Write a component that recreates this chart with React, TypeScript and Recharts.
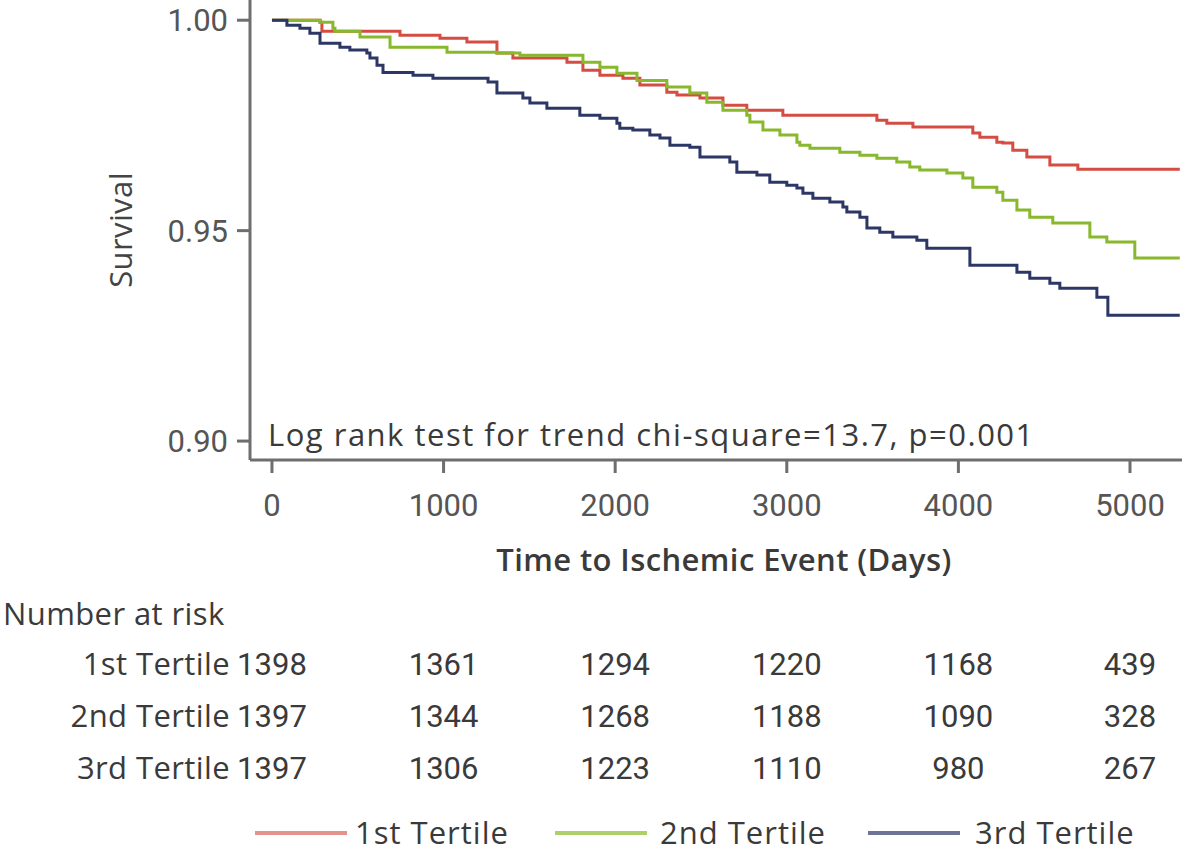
import { Line, LineChart, XAxis, YAxis } from "recharts";

const FONT = "'Open Sans', 'Noto Sans', sans-serif";
const NUM_FONT = "Roboto, 'Noto Sans', sans-serif";

const dayTicks = [0, 1000, 2000, 3000, 4000, 5000];
const survTicks = [0.9, 0.95, 1.0];

// Kaplan-Meier steps: day where the curve drops, and the survival from that day on
const t1Days = [0, 280, 291, 746, 979, 1136, 1311, 1404, 1719, 1812, 1911, 2045, 2144, 2301, 2360, 2494, 2628, 2767, 2977, 3525, 3583, 3735, 4084, 4125, 4224, 4259, 4317, 4399, 4533, 4696, 5290];
const t1Surv = [1.0, 0.9995, 0.9974, 0.9964, 0.9957, 0.9948, 0.9922, 0.991, 0.99, 0.9881, 0.9869, 0.9862, 0.9846, 0.9829, 0.9822, 0.9815, 0.9798, 0.9786, 0.9774, 0.9762, 0.9755, 0.9746, 0.9732, 0.9722, 0.971, 0.9708, 0.9691, 0.9675, 0.9656, 0.9646, 0.9646];

const t2Days = [0, 280, 355, 367, 513, 688, 1020, 1311, 1445, 1812, 1911, 2010, 2127, 2301, 2435, 2534, 2628, 2767, 2785, 2861, 2960, 3059, 3076, 3135, 3309, 3426, 3525, 3641, 3717, 3775, 3933, 4026, 4084, 4224, 4259, 4341, 4416, 4550, 4766, 4865, 5028, 5290];
const t2Surv = [1.0, 0.9995, 0.9981, 0.9974, 0.996, 0.9936, 0.9924, 0.9922, 0.9917, 0.99, 0.9888, 0.9874, 0.9857, 0.9841, 0.9827, 0.9805, 0.9786, 0.9774, 0.9758, 0.9739, 0.9727, 0.971, 0.9703, 0.9696, 0.9686, 0.9679, 0.9672, 0.9663, 0.9651, 0.9644, 0.9637, 0.9625, 0.9603, 0.9591, 0.9572, 0.9549, 0.9532, 0.9518, 0.9485, 0.9473, 0.9435, 0.9435];

const t3Days = [0, 87, 163, 221, 280, 396, 454, 553, 571, 612, 647, 822, 938, 1259, 1311, 1462, 1503, 1602, 1794, 1911, 2010, 2027, 2103, 2202, 2261, 2319, 2435, 2494, 2668, 2709, 2826, 2901, 3000, 3059, 3094, 3152, 3251, 3327, 3350, 3426, 3467, 3542, 3618, 3758, 3816, 4067, 4341, 4416, 4533, 4591, 4807, 4871, 5290];
const t3Surv = [1.0, 0.9988, 0.9981, 0.9969, 0.9945, 0.9936, 0.9929, 0.9922, 0.991, 0.9893, 0.9876, 0.9869, 0.9862, 0.9853, 0.9827, 0.9815, 0.9803, 0.9791, 0.9774, 0.9767, 0.9755, 0.9743, 0.9739, 0.9727, 0.972, 0.9703, 0.9698, 0.9675, 0.9663, 0.9639, 0.9632, 0.9615, 0.9608, 0.9601, 0.9589, 0.9577, 0.9568, 0.9556, 0.9544, 0.9532, 0.9506, 0.9496, 0.9485, 0.9477, 0.9458, 0.9418, 0.9401, 0.9387, 0.9375, 0.9363, 0.9342, 0.9299, 0.9299];

const risk1 = [1398, 1361, 1294, 1220, 1168, 439];
const risk2 = [1397, 1344, 1268, 1188, 1090, 328];
const risk3 = [1397, 1306, 1223, 1110, 980, 267];

const groups = ["1st Tertile", "2nd Tertile", "3rd Tertile"];
const colors = ["#d44c42", "#88b82c", "#2c3766"];
const legendColors = ["#e3938b", "#aed06a", "#6d7596"];
const legendLineX = [255, 555, 868];
const legendTextX = [355, 660, 975];

const toPts = (days: number[], surv: number[]) => days.map((d, i) => ({ d, s: surv[i] }));
const series = [toPts(t1Days, t1Surv), toPts(t2Days, t2Surv), toPts(t3Days, t3Surv)];
const risks = [risk1, risk2, risk3];
// invisible carriers so the at-risk axes get a domain and draw their ticks
const riskPts = risks.map((r) => dayTicks.map((d, j) => ({ d, s: 0.95, n: r[j] })));

const axisGrey = "#6e6e6e";
const txt = { fontFamily: FONT, fontSize: 31, letterSpacing: 0.4 };
const num = { fontFamily: NUM_FONT, fontSize: 31 };

export default function App() {
  return (
    <div style={{ position: "absolute", left: 0, top: 0, width: 1200, height: 861, background: "#fff", fontFamily: FONT }}>
      <LineChart width={1200} height={861} margin={{ top: 0, right: 18, left: 180, bottom: 65 }}>
        <XAxis
          xAxisId="main" type="number" dataKey="d" domain={[-128, 5303]} ticks={dayTicks}
          allowDataOverflow height={180} stroke={axisGrey} strokeWidth={3}
          tickSize={13} tickMargin={21} tick={{ ...num, fill: "#555" }}
        />
        {risks.map((r, i) => (
          <XAxis
            key={i} xAxisId={`r${i}`} type="number" dataKey="d" domain={[-128, 5303]} ticks={dayTicks}
            allowDataOverflow height={52} axisLine={false} tickLine={false}
            tickSize={0} tickMargin={13} tick={{ ...num, fill: "#3a3a3a" }}
            tickFormatter={(v: number) => String(r[dayTicks.indexOf(v)] ?? "")}
          />
        ))}
        <YAxis
          type="number" domain={[0.8955, 1.0048]} ticks={survTicks} allowDataOverflow
          width={70} stroke={axisGrey} strokeWidth={3} tickSize={13} tickMargin={9}
          tick={{ ...num, fill: "#555" }} tickFormatter={(v: number) => v.toFixed(2)}
        />
        {series.map((pts, i) => (
          <Line
            key={i} xAxisId="main" data={pts} dataKey="s" type="stepAfter"
            stroke={colors[i]} strokeWidth={3} dot={false} isAnimationActive={false}
          />
        ))}
        {riskPts.map((pts, i) => (
          <Line
            key={`r${i}`} xAxisId={`r${i}`} data={pts} dataKey="s" stroke="none"
            dot={false} activeDot={false} isAnimationActive={false} legendType="none"
          />
        ))}
      </LineChart>

      <div style={{ position: "absolute", left: 120, top: 230, transform: "translate(-50%, -50%) rotate(-90deg)", ...txt, color: "#444", whiteSpace: "nowrap" }}>
        Survival
      </div>
      <div style={{ position: "absolute", left: 268, top: 419, ...txt, letterSpacing: 1.5, lineHeight: "31px", color: "#3a3a3a", whiteSpace: "nowrap" }}>
        Log rank test for trend chi-square=13.7, p=0.001
      </div>
      <div style={{ position: "absolute", left: 724, top: 544, transform: "translateX(-50%)", ...txt, lineHeight: "31px", fontWeight: 600, color: "#3a3a3a", whiteSpace: "nowrap" }}>
        Time to Ischemic Event (Days)
      </div>
      <div style={{ position: "absolute", left: 3, top: 598, ...txt, lineHeight: "31px", color: "#3a3a3a", whiteSpace: "nowrap" }}>
        Number at risk
      </div>
      {groups.map((g, i) => (
        <div key={g} style={{ position: "absolute", right: 1200 - 230, top: 648 + i * 52, ...txt, lineHeight: "31px", color: "#3a3a3a", whiteSpace: "nowrap" }}>
          {g}
        </div>
      ))}
      {groups.map((g, i) => (
        <div key={`lg${i}`}>
          <div style={{ position: "absolute", left: legendLineX[i], top: 831, width: 92, height: 4, background: legendColors[i] }} />
          <div style={{ position: "absolute", left: legendTextX[i], top: 817, ...txt, letterSpacing: 1, lineHeight: "31px", color: "#3a3a3a", whiteSpace: "nowrap" }}>
            {g}
          </div>
        </div>
      ))}
    </div>
  );
}
